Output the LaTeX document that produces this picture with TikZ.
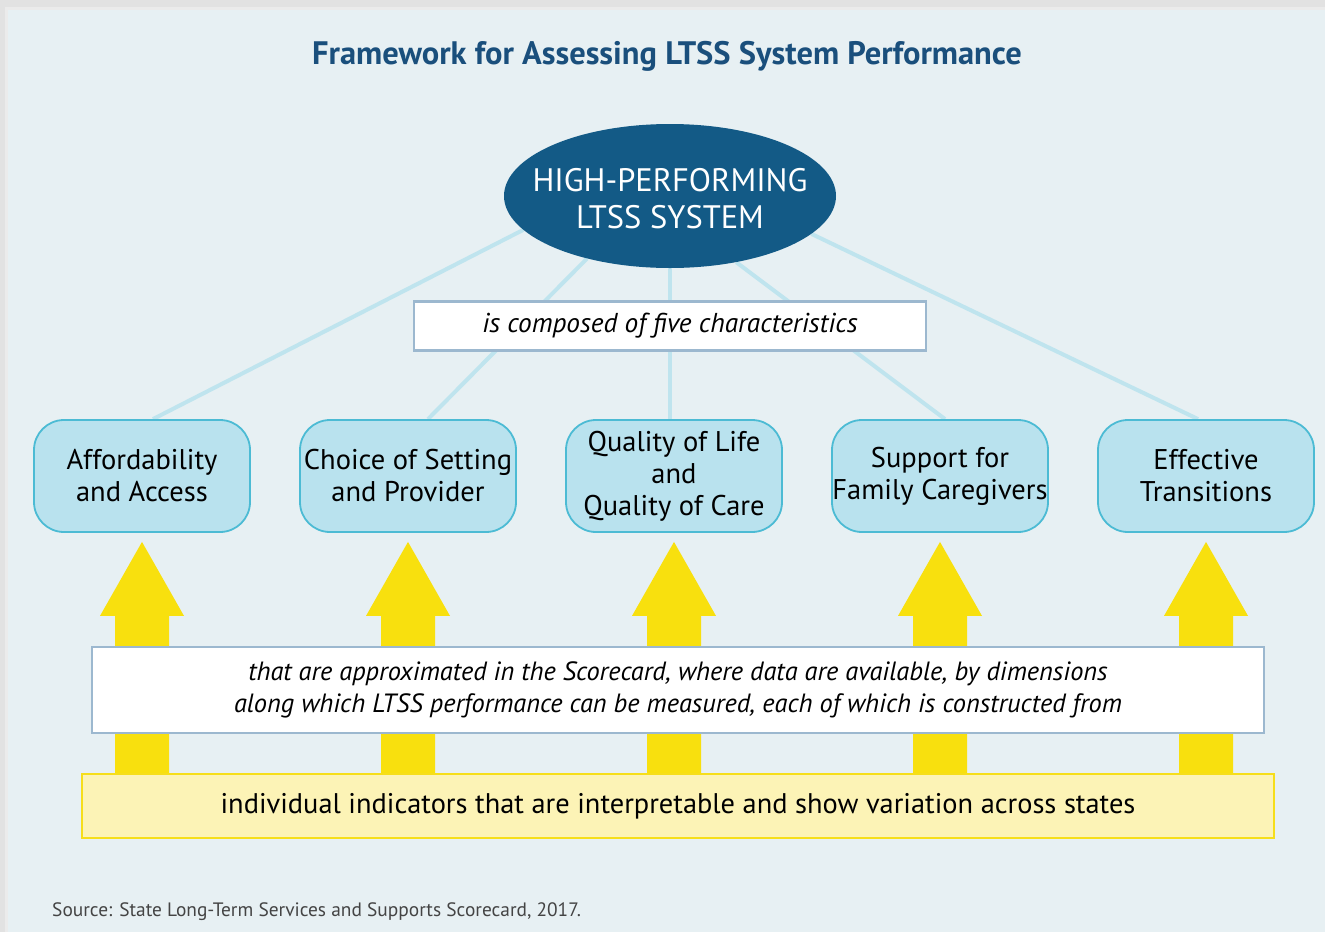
\documentclass[tikz,border=0pt]{standalone}
\usepackage{fontspec}
\setmainfont{PT Sans}
\usetikzlibrary{shapes.geometric,calc,backgrounds}
\definecolor{bgpanel}{HTML}{E7F0F3}
\definecolor{outer}{HTML}{E2E2E2}
\definecolor{titleblue}{HTML}{1A4F7C}
\definecolor{ellblue}{HTML}{135A86}
\definecolor{linkblue}{HTML}{BFE4EE}
\definecolor{boxfill}{HTML}{B9E2EE}
\definecolor{boxline}{HTML}{4CBBD4}
\definecolor{frameline}{HTML}{9CB8CF}
\definecolor{arrowyellow}{HTML}{F8E00E}
\definecolor{indfill}{HTML}{FCF3B6}
\definecolor{indline}{HTML}{F6DE1A}
\definecolor{srcgray}{HTML}{444444}
\begin{document}
\begin{tikzpicture}[x=1pt,y=-1pt,
  charbox/.style={draw=boxline, line width=1.8pt, fill=boxfill, rounded corners=30pt,
    minimum width=216pt, minimum height=112pt, align=center, inner sep=0pt,
    font=\fontsize{28.5}{32}\selectfont},
  link/.style={draw=linkblue, line width=4pt},
  framebox/.style={draw=frameline, line width=2.5pt, fill=white, inner sep=0pt, align=center},
  yarrowshape/.style={fill=arrowyellow}
]
\useasboundingbox (0,0) rectangle (1325,932);
% nodes
\node[font=\fontsize{32.5}{36}\bfseries\selectfont, text=titleblue] (title) at (667,56) {Framework for Assessing LTSS System Performance};
\node[ellipse, fill=ellblue, minimum width=332pt, minimum height=144pt, inner sep=0pt] (sys) at (670,196) {};
\node[text=white, align=center, inner sep=0pt, font=\fontsize{32.5}{37}\selectfont] (systxt) at ($(sys.center)+(0,3)$) {HIGH-PERFORMING\\LTSS SYSTEM};
\node[framebox, minimum width=512pt, minimum height=49pt, font=\fontsize{27.3}{30}\itshape\selectfont] (comp) at (670,326) {is composed of five characteristics};
\node[charbox] (b1) at (142,476) {Affordability\\and Access};
\node[charbox] (b2) at (408,476) {Choice of Setting\\and Provider};
\node[charbox] (b3) at (674,476) {Quality of Life\\and\\Quality of Care};
\node[charbox] (b4) at (940,476) {Support for\\Family Caregivers};
\node[charbox] (b5) at (1206,476) {Effective\\Transitions};
\node[framebox, minimum width=1172pt, minimum height=86pt, font=\fontsize{26.4}{32}\itshape\selectfont] (dims) at (678,690)
  {that are approximated in the Scorecard, where data are available, by dimensions\\along which LTSS performance can be measured, each of which is constructed from};
\node[draw=indline, line width=2pt, fill=indfill, minimum width=1192pt, minimum height=64pt, inner sep=0pt,
  font=\fontsize{28.4}{30}\selectfont] (ind) at (678,806) {individual indicators that are interpretable and show variation across states};
\node[anchor=base west, inner sep=0pt, text=srcgray, font=\fontsize{19.4}{22}\selectfont] (src) at (52,916) {Source: State Long-Term Services and Supports Scorecard, 2017.};
\begin{scope}[on background layer]
  \fill[outer] (0,0) rectangle (1325,932);
  \fill[black!8] (5,7) rectangle (1325,932);
  \fill[bgpanel] (8,10) rectangle (1325,932);
  \draw[link] (sys.193) -- ($(b1.north)+(11,0)$);
  \draw[link] (sys.217) -- ($(b2.north)+(20,0)$);
  \draw[link] (sys.270) -- ($(b3.north)+(-4,0)$);
  \draw[link] (sys.315) -- ($(b4.north)+(5,0)$);
  \draw[link] (sys.345) -- ($(b5.north)+(-8,0)$);
  \foreach \i in {1,...,5}{
    \fill[yarrowshape] ($(b\i.south)+(0,9)$) -- ++(42,74) -- ++(-15,0) -- ++(0,170) -- ++(-54,0) -- ++(0,-170) -- ++(-15,0) -- cycle;
  }
\end{scope}
\end{tikzpicture}
\end{document}
